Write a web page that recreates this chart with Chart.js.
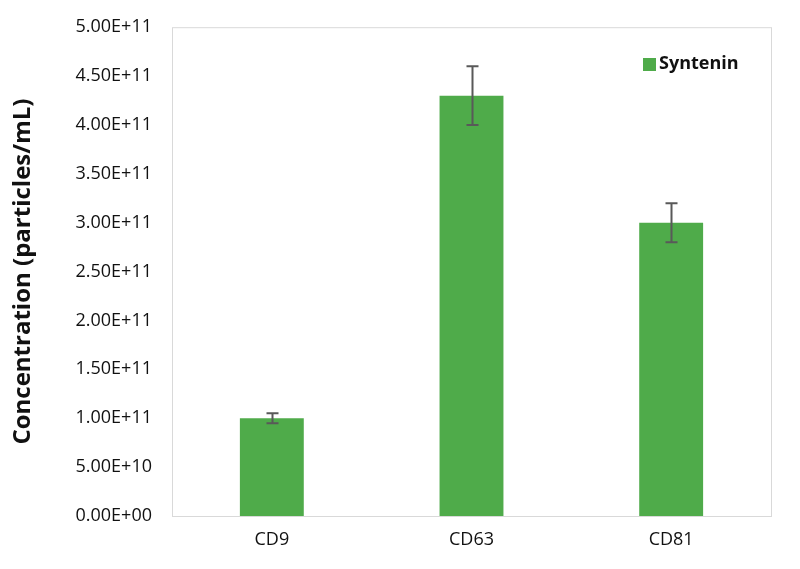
<!DOCTYPE html>
<html>
<head>
<meta charset="utf-8">
<script src="https://cdn.jsdelivr.net/npm/chart.js@4.4.1/dist/chart.umd.min.js"></script>
<style>
  body { margin: 0; background: #fff; }
  #wrap { width: 800px; height: 569px; }
</style>
</head>
<body>
<div id="wrap"><canvas id="myChart" width="800" height="569"></canvas></div>
<script>
// chart data
const categories = ['CD9', 'CD63', 'CD81'];
const seriesLabel = 'Syntenin';
const concentration = [1.0e11, 4.3e11, 3.0e11];
const errUp = [0.05e11, 0.3e11, 0.2e11];
const errDown = [0.05e11, 0.3e11, 0.2e11];

const fontFamily = '"Open Sans", Lato, sans-serif';

// frame around the plot area
const framePlugin = {
    id: 'frame',
    beforeDatasetsDraw(chart) {
        const { ctx, chartArea: a } = chart;
        ctx.save();
        ctx.strokeStyle = '#d9d9d9';
        ctx.lineWidth = 1;
        ctx.strokeRect(a.left + 0.5, a.top + 0.5, a.right - a.left, a.bottom - a.top);
        ctx.restore();
    }
};

// error bars drawn from the arrays through the y scale
const errorBarPlugin = {
    id: 'errorBars',
    afterDatasetsDraw(chart) {
        const { ctx } = chart;
        const meta = chart.getDatasetMeta(0);
        const y = chart.scales.y;
        ctx.save();
        ctx.strokeStyle = '#595959';
        ctx.lineWidth = 2;
        meta.data.forEach((bar, i) => {
            const v = concentration[i];
            const top = y.getPixelForValue(v + errUp[i]);
            const bottom = y.getPixelForValue(v - errDown[i]);
            const x = Math.round(bar.x) + 0.5;
            ctx.beginPath();
            ctx.moveTo(x, top);
            ctx.lineTo(x, bottom);
            ctx.moveTo(x - 6, top);
            ctx.lineTo(x + 6, top);
            ctx.moveTo(x - 6, bottom);
            ctx.lineTo(x + 6, bottom);
            ctx.stroke();
        });
        ctx.restore();
    }
};

// legend inside the plot, top right
const legendPlugin = {
    id: 'insideLegend',
    afterDraw(chart) {
        const { ctx, chartArea: a } = chart;
        ctx.save();
        ctx.fillStyle = '#4fab4a';
        ctx.fillRect(a.right - 128, 58, 13, 13);
        ctx.fillStyle = '#111';
        ctx.font = 'bold 18px ' + fontFamily;
        ctx.textBaseline = 'middle';
        ctx.textAlign = 'left';
        ctx.fillText(seriesLabel, a.right - 112, 64);
        ctx.restore();
    }
};

const ctx = document.getElementById('myChart').getContext('2d');
const myChart = new Chart(ctx, {
    type: 'bar',
    data: {
        labels: categories,
        datasets: [{
            label: seriesLabel,
            data: concentration,
            backgroundColor: '#4fab4a',
            borderWidth: 0,
            barPercentage: 0.32,
            categoryPercentage: 1.0
        }]
    },
    options: {
        responsive: false,
        animation: false,
        layout: { padding: { top: 27, right: 29, bottom: 0, left: 0 } },
        plugins: {
            legend: { display: false },
            tooltip: { enabled: false }
        },
        scales: {
            x: {
                grid: { display: false, drawTicks: false },
                border: { display: false },
                ticks: {
                    color: '#111',
                    font: { family: fontFamily, size: 18 },
                    padding: 13
                },
                afterFit(scale) { scale.height = 53; }
            },
            y: {
                min: 0,
                max: 5e11,
                grid: { display: false, drawTicks: false },
                border: { display: false },
                ticks: {
                    stepSize: 0.5e11,
                    color: '#111',
                    font: { family: fontFamily, size: 18, lineHeight: 0.8 },
                    padding: 20,
                    callback: v => Number(v).toExponential(2).toUpperCase().replace(/E\+?(-?)(\d)$/, 'E$10$2').replace('E0', 'E+0').replace(/E(\d)/, 'E+$1')
                },
                title: {
                    display: true,
                    text: 'Concentration (particles/mL)',
                    color: '#111',
                    font: { family: fontFamily, size: 24, weight: 'bold' },
                    padding: { top: 9, bottom: 2 }
                },
                afterFit(scale) { scale.width = 172; }
            }
        }
    },
    plugins: [framePlugin, errorBarPlugin, legendPlugin]
});
</script>
</body>
</html>
